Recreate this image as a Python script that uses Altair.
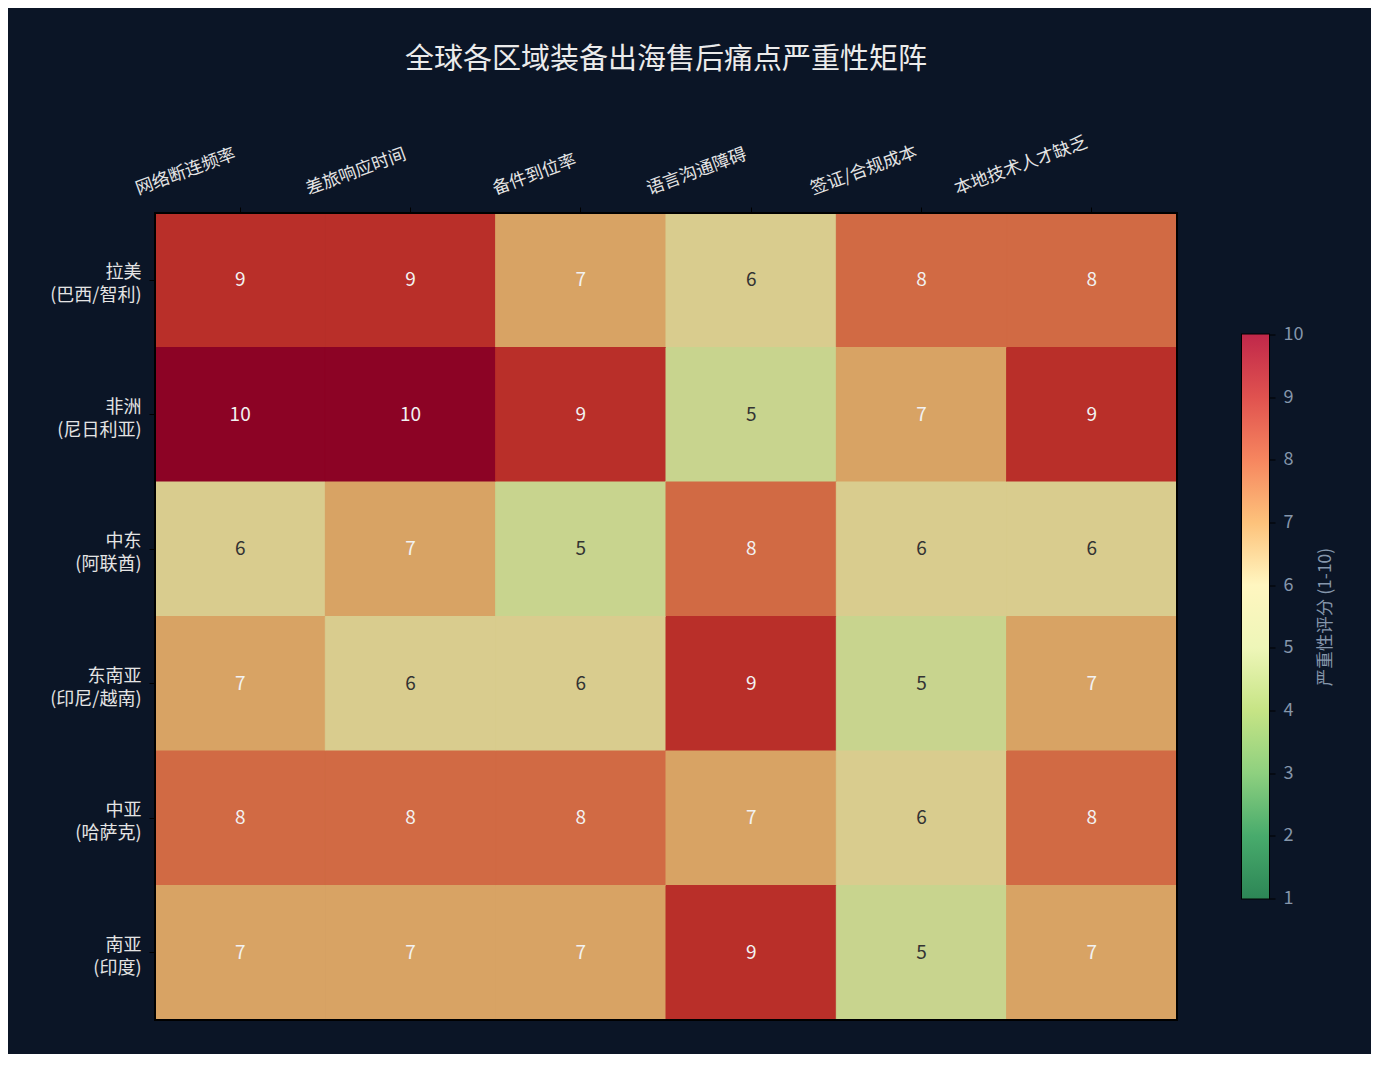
import altair as alt
import pandas as pd

# ---- data ----
regions = ["拉美", "非洲", "中东", "东南亚", "中亚", "南亚"]
countries = ["(巴西/智利)", "(尼日利亚)", "(阿联酋)", "(印尼/越南)", "(哈萨克)", "(印度)"]
pain_points = ["网络断连频率", "差旅响应时间", "备件到位率", "语言沟通障碍", "签证/合规成本", "本地技术人才缺乏"]
scores = [
    [9, 9, 7, 6, 8, 8],
    [10, 10, 9, 5, 7, 9],
    [6, 7, 5, 8, 6, 6],
    [7, 6, 6, 9, 5, 7],
    [8, 8, 8, 7, 6, 8],
    [7, 7, 7, 9, 5, 7],
]
score_levels = [5, 6, 7, 8, 9, 10]
cell_colors = ["#c8d48e", "#d9cc8e", "#d8a364", "#d16a44", "#b92f29", "#8c0325"]
cbar_ticks = list(range(1, 11))
cbar_stops = ["#2d8656", "#48ab6c", "#8ed07f", "#c6e485", "#eef6b8",
              "#fff6c0", "#fdc27b", "#f6865f", "#e0524f", "#c0284a"]

row_labels = [f"{r}\n{c}" for r, c in zip(regions, countries)]

records = []
for i, rl in enumerate(row_labels):
    for j, pp in enumerate(pain_points):
        records.append({"region": rl, "pain": pp, "score": scores[i][j]})
df = pd.DataFrame(records)

BG = "#0b1526"
FONT = "Noto Sans CJK SC"
XFS = 17.5


def text_len(s, fs):
    return sum(0.38 * fs if ch in "/()" else fs for ch in s)


pad_conditions = [
    {"test": f"datum.value === '{p}'", "value": round(9 + 0.342 * text_len(p, XFS), 1)}
    for p in pain_points
]

cell_scale = alt.Scale(domain=score_levels, range=cell_colors)

base = alt.Chart(df).encode(
    x=alt.X(
        "pain:N",
        sort=pain_points,
        title=None,
        axis=alt.Axis(
            orient="top",
            labelAngle=-20,
            labelAlign="right",
            labelBaseline="bottom",
            labelFontSize=XFS,
            labelColor="#e4e4e4",
            labelFont=FONT,
            labelPadding={"condition": pad_conditions, "value": 45},
            labelOffset=-2,
            tickColor="#000000",
            tickSize=6,
            domain=False,
        ),
    ),
    y=alt.Y(
        "region:N",
        sort=row_labels,
        title=None,
        axis=alt.Axis(
            labelExpr="split(datum.label, '\\n')",
            labelFontSize=18,
            labelLineHeight=23,
            labelColor="#e4e4e4",
            labelFont=FONT,
            labelPadding=8,
            labelOffset=-7,
            tickColor="#000000",
            tickSize=6,
            domain=False,
        ),
    ),
)

rects = base.mark_rect(strokeWidth=1).encode(
    color=alt.Color("score:O", scale=cell_scale, legend=None),
    stroke=alt.Stroke("score:O", scale=cell_scale, legend=None),
)

texts = base.mark_text(fontSize=19, font=FONT).encode(
    text=alt.Text("score:Q"),
    color=alt.condition("datum.score >= 7", alt.value("#f2f2f2"), alt.value("#333333")),
)

frame = alt.Chart(pd.DataFrame({"k": [0]})).mark_rect(
    filled=False, stroke="#000000", strokeWidth=2
).encode(
    x=alt.value(0), x2=alt.value("width"), y=alt.value(0), y2=alt.value("height")
)

heat = (rects + texts + frame).properties(
    width=1022,
    height=807,
    title=alt.TitleParams(
        "全球各区域装备出海售后痛点严重性矩阵",
        fontSize=29,
        font=FONT,
        fontWeight="normal",
        color="#ebebeb",
        anchor="middle",
        offset=58,
    ),
)

cbar_df = pd.DataFrame({"lo": [cbar_ticks[0]], "hi": [cbar_ticks[-1]]})
gradient = alt.LinearGradient(
    gradient="linear",
    stops=[alt.GradientStop(color=c, offset=k / (len(cbar_stops) - 1)) for k, c in enumerate(cbar_stops)],
    x1=0, x2=0, y1=1, y2=0,
)
cbar = alt.Chart(cbar_df).mark_rect(fill=gradient).encode(
    y=alt.Y(
        "lo:Q",
        scale=alt.Scale(domain=[cbar_ticks[0], cbar_ticks[-1]], nice=False, zero=False),
        title="严重性评分 (1-10)",
        axis=alt.Axis(
            orient="right",
            values=cbar_ticks,
            labelFontSize=18,
            labelColor="#8596ab",
            labelFont=FONT,
            labelPadding=8,
            tickColor="#000000",
            tickSize=6,
            domain=False,
            grid=False,
            titleAngle=270,
            titleFontSize=17.5,
            titleFont=FONT,
            titleFontWeight="normal",
            titleColor="#8596ab",
            titlePadding=32,
        ),
    ),
    y2="hi:Q",
).properties(width=27, height=564)

chart = (
    alt.hconcat(heat, cbar, spacing=65, bounds="flush", center=True)
    .properties(background=BG, padding={"left": 40, "top": 37, "right": 35, "bottom": 32})
    .configure_view(stroke="#000000", strokeWidth=2)
)

chart.save("out.html", embed_options={"renderer": "svg", "actions": False})
